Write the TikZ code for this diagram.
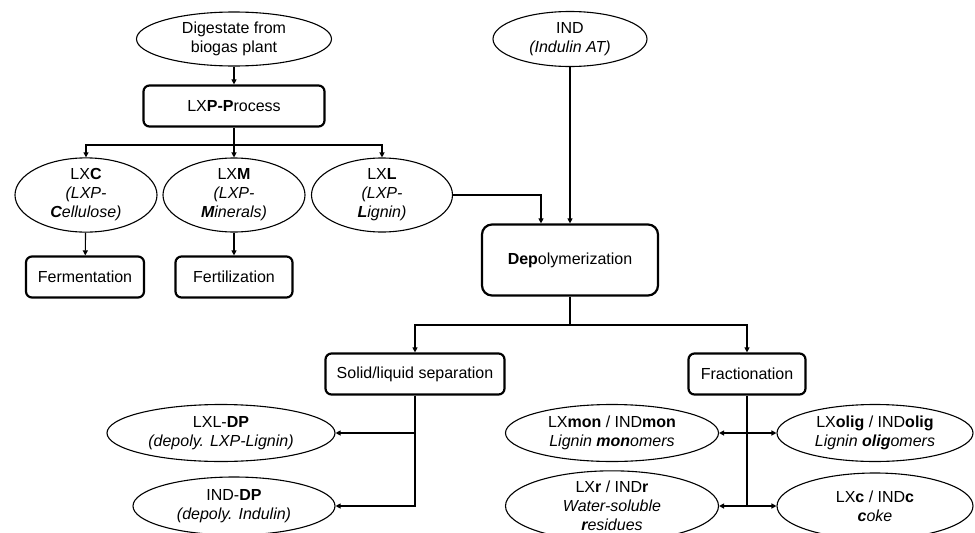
\documentclass[tikz,border=0pt]{standalone}
\usepackage{fontspec}
\setmainfont{Liberation Sans}
\usetikzlibrary{shapes.geometric, arrows.meta, positioning, calc}

\begin{document}
\begin{tikzpicture}[
  x=1pt, y=-1pt,
  font=\fontsize{16}{19}\selectfont,
  oval/.style={draw, ellipse, inner sep=0pt, line width=1.1pt, align=center},
  procbox/.style={draw, rounded corners=6pt, line width=2.2pt, inner sep=0pt,
                  minimum height=41pt, align=center},
  arrow/.style={-{Triangle[length=5pt, width=5pt]}, line width=1.1pt},
  twoway/.style={{Triangle[length=5pt, width=5pt]}-{Triangle[length=5pt, width=5pt]}, line width=1.6pt},
  link/.style={line width=1.1pt}
]
  \useasboundingbox (0,0) rectangle (975,533);

  % Left branch: digestate
  \node[oval, minimum width=195pt, minimum height=54pt] (dig) at (234,39) {Digestate from\\biogas plant};
  \node[procbox, minimum width=181pt] (lxp) at (234,106) {LX\textbf{P-P}rocess};
  \node[oval, minimum width=142pt, minimum height=64pt] (lxc) at (86,195)
    {LX\textbf{C}\\\textit{(LXP-}\\\textit{\textbf{C}ellulose)}};
  \node[oval, minimum width=142pt, minimum height=64pt] (lxm) at (234,195)
    {LX\textbf{M}\\\textit{(LXP-}\\\textit{\textbf{M}inerals)}};
  \node[oval, minimum width=141pt, minimum height=64pt] (lxl) at (382,195)
    {LX\textbf{L}\\\textit{(LXP-}\\\textit{\textbf{L}ignin)}};
  \node[procbox, minimum width=118pt] (ferm) at (85,277) {Fermentation};
  \node[procbox, minimum width=117pt] (fert) at (234,277) {Fertilization};

  % Right branch: Indulin
  \node[oval, minimum width=154pt, minimum height=55pt] (ind) at (570,39) {IND\\\textit{(Indulin AT)}};
  \node[procbox, rounded corners=10pt, minimum width=176pt, minimum height=71pt] (dep) at (570,260)
    {\textbf{Dep}olymerization};

  % Separation / fractionation
  \node[procbox, minimum width=179pt] (sol) at (415,374) {Solid/liquid separation};
  \node[procbox, minimum width=117pt] (frac) at (747,374) {Fractionation};

  % Products
  \node[oval, minimum width=228pt, minimum height=57pt] (lxldp) at (221,433)
    {LXL-\textbf{DP}\\\textit{(depoly. LXP-Lignin)}};
  \node[oval, minimum width=202pt, minimum height=58pt] (inddp) at (234,506)
    {IND-\textbf{DP}\\\textit{(depoly. Indulin)}};
  \node[oval, minimum width=213pt, minimum height=57pt] (lxmon) at (612,433)
    {LX\textbf{mon} / IND\textbf{mon}\\\textit{Lignin \textbf{mon}omers}};
  \node[oval, minimum width=196pt, minimum height=57pt] (lxolig) at (875,433)
    {LX\textbf{olig} / IND\textbf{olig}\\\textit{Lignin \textbf{olig}omers}};
  \node[oval, minimum width=213pt, minimum height=66pt] (lxr) at (612,506)
    {LX\textbf{r} / IND\textbf{r}\\\textit{Water-soluble}\\\textit{\textbf{r}esidues}};
  \node[oval, minimum width=196pt, minimum height=66pt] (lxcoke) at (875,506)
    {LX\textbf{c} / IND\textbf{c}\\\textit{\textbf{c}oke}};

  % Split points
  \coordinate (split1) at (234,145);
  \coordinate (split2) at (570,325);

  % Arrows
  \draw[arrow] (dig) -- (lxp);
  \draw[link] (lxp) -- (split1);
  \draw[arrow] (split1) -| (lxc);
  \draw[arrow] (split1) -- (lxm);
  \draw[arrow] (split1) -| (lxl);
  \draw[arrow] (lxc) -- (ferm);
  \draw[arrow] (lxm) -- (fert);
  \draw[arrow] (lxl.east) -| ([xshift=-29pt]dep.north);
  \draw[arrow] (ind) -- (dep);
  \draw[link] (dep) -- (split2);
  \draw[arrow] (split2) -| (sol);
  \draw[arrow] (split2) -| (frac);
  \draw[arrow] (sol.south) |- (lxldp.east);
  \draw[arrow] (sol.south) |- (inddp.east);
  \draw[link] (frac.south) -- (frac.south |- lxr.east);
  \draw[twoway] (lxmon.east) -- (lxolig.west);
  \draw[twoway] (lxr.east) -- (lxcoke.west);
\end{tikzpicture}
\end{document}
